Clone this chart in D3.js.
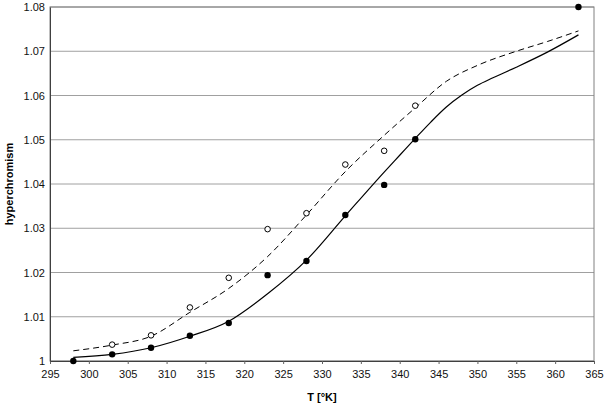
<!DOCTYPE html>
<html>
<head>
<meta charset="utf-8">
<script src="https://cdn.jsdelivr.net/npm/d3@7"></script>
<style>
  body { margin: 0; background: #fff; }
  svg { font-family: "Liberation Sans", Arial, sans-serif; }
</style>
</head>
<body>
<div id="chart"></div>
<script>
// measured points
var temps = [298, 303, 308, 313, 318, 323, 328, 333, 338, 342, 363];
var filled = [1.0000, 1.0015, 1.0030, 1.0057, 1.0086, 1.0194, 1.0226, 1.0330, 1.0398, 1.0501, 1.0800];
var openTemps = [303, 308, 313, 318, 323, 328, 333, 338, 342];
var openVals = [1.0037, 1.0058, 1.0121, 1.0188, 1.0298, 1.0334, 1.0444, 1.0475, 1.0577];

// fitted curves
var solidT = [298, 303, 308, 313, 318, 323, 328, 333, 338, 340, 342, 344, 346, 348, 350, 352, 355, 359, 363];
var solidV = [1.0008, 1.0015, 1.0030, 1.0056, 1.0090, 1.0152, 1.0228, 1.0328, 1.0427, 1.0465, 1.0503, 1.0540, 1.0574, 1.0601, 1.0623, 1.0640, 1.0664, 1.0698, 1.0737];
var dashT = [298, 303, 308, 313, 318, 323, 328, 333, 338, 342, 346, 350, 355, 359, 363];
var dashV = [1.0023, 1.0036, 1.0056, 1.0110, 1.0164, 1.0236, 1.0330, 1.0428, 1.0510, 1.0572, 1.0632, 1.0668, 1.0700, 1.0722, 1.0746];

var xTicks = d3.range(295, 366, 5);
var yTicks = d3.range(0, 9).map(function(i) { return 1 + i * 0.01; });

var width = 607, height = 407;
var margin = {top: 7, right: 13, bottom: 46, left: 50};

var svg = d3.select("#chart").append("svg")
    .attr("width", width)
    .attr("height", height);

var x = d3.scaleLinear().domain([295, 365]).range([margin.left, width - margin.right]);
var y = d3.scaleLinear().domain([1, 1.08]).range([height - margin.bottom, margin.top]);

// gridlines
svg.append("g")
    .selectAll("line")
    .data(yTicks)
    .enter().append("line")
    .attr("x1", x(295)).attr("x2", x(365))
    .attr("y1", function(d) { return y(d); })
    .attr("y2", function(d) { return y(d); })
    .attr("stroke", "#a0a0a0")
    .attr("stroke-width", 1);

// frame
svg.append("rect")
    .attr("x", x(295)).attr("y", y(1.08))
    .attr("width", x(365) - x(295))
    .attr("height", y(1) - y(1.08))
    .attr("fill", "none")
    .attr("stroke", "#808080");

// axes
var xAxis = svg.append("g")
    .attr("transform", "translate(0," + y(1) + ")")
    .call(d3.axisBottom(x).tickValues(xTicks).tickSize(3).tickPadding(6));
var yAxis = svg.append("g")
    .attr("transform", "translate(" + x(295) + ",0)")
    .call(d3.axisLeft(y).tickValues(yTicks).tickSize(0).tickPadding(5)
        .tickFormat(function(d) { return d === 1 ? "1" : d3.format(".2f")(d); }));

[xAxis, yAxis].forEach(function(a) {
    a.select(".domain").attr("stroke", "#404040");
    a.selectAll(".tick line").attr("stroke", "#606060");
    a.selectAll("text").attr("font-size", 11).attr("fill", "#111")
        .attr("font-family", "'Liberation Sans', Arial, sans-serif");
});

// fitted lines
var line = d3.line()
    .x(function(d) { return x(d[0]); })
    .y(function(d) { return y(d[1]); })
    .curve(d3.curveMonotoneX);

svg.append("path")
    .datum(dashT.map(function(t, i) { return [t, dashV[i]]; }))
    .attr("d", line)
    .attr("fill", "none")
    .attr("stroke", "#000")
    .attr("stroke-width", 1)
    .attr("stroke-dasharray", "6,4");

svg.append("path")
    .datum(solidT.map(function(t, i) { return [t, solidV[i]]; }))
    .attr("d", line)
    .attr("fill", "none")
    .attr("stroke", "#000")
    .attr("stroke-width", 1.2);

// markers
svg.append("g").selectAll("circle")
    .data(openTemps)
    .enter().append("circle")
    .attr("cx", function(d) { return x(d); })
    .attr("cy", function(d, i) { return y(openVals[i]); })
    .attr("r", 2.8)
    .attr("fill", "#fff")
    .attr("stroke", "#000")
    .attr("stroke-width", 1);

svg.append("g").selectAll("circle")
    .data(temps)
    .enter().append("circle")
    .attr("cx", function(d) { return x(d); })
    .attr("cy", function(d, i) { return y(filled[i]); })
    .attr("r", 3.2)
    .attr("fill", "#000");

// axis titles
svg.append("text")
    .attr("x", (x(295) + x(365)) / 2)
    .attr("y", 401)
    .attr("text-anchor", "middle")
    .attr("font-size", 11)
    .attr("font-weight", "bold")
    .text("T [°K]");

svg.append("text")
    .attr("transform", "translate(13," + (y(1.04)) + ") rotate(-90)")
    .attr("text-anchor", "middle")
    .attr("font-size", 11)
    .attr("font-weight", "bold")
    .text("hyperchromism");
</script>
</body>
</html>
